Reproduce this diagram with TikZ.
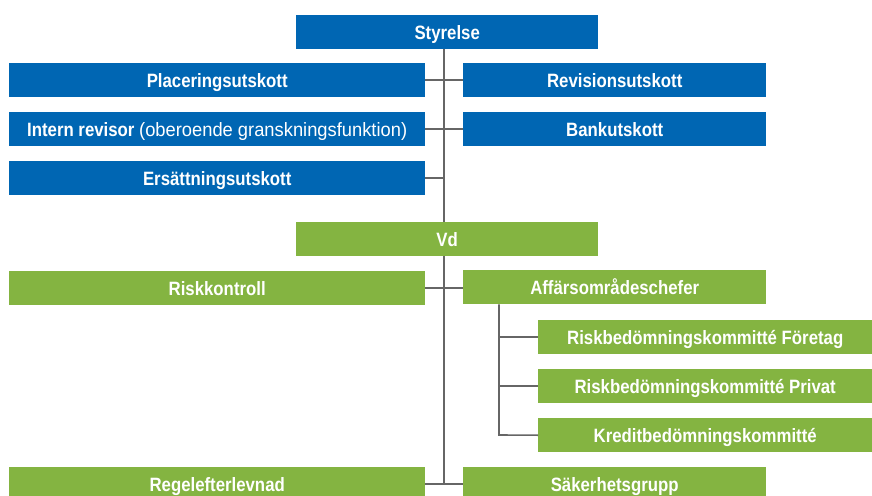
\documentclass[tikz,border=0pt]{standalone}
\usepackage{fontspec}
\setmainfont{Liberation Sans}[FakeStretch=0.87]
\definecolor{bblue}{HTML}{0066B3}
\definecolor{bgreen}{HTML}{84B441}
\definecolor{lgray}{HTML}{666666}
\begin{document}
\begin{tikzpicture}[x=1pt,y=-1pt,
  box/.style={draw=none,anchor=north west,inner sep=0pt,text=white,
    font=\fontsize{19.3}{21}\selectfont\bfseries,minimum height=34pt,
    text height=13.8pt,text depth=0pt},
  bluebox/.style={box,fill=bblue},
  greenbox/.style={box,fill=bgreen},
  conn/.style={draw=lgray,line width=1.6pt}]
\useasboundingbox (0,0) rectangle (872,495);
\clip (0,0) rectangle (872,495);
% blue
\node[bluebox,minimum width=302pt] (sty) at (296,15) {Styrelse};
\node[bluebox,minimum width=416pt] (plac) at (9,63) {Placeringsutskott};
\node[bluebox,minimum width=303pt] (rev) at (463,63) {Revisionsutskott};
\node[bluebox,minimum width=416pt] (int) at (9,112) {Intern revisor {\mdseries\addfontfeature{FakeStretch=0.95}(oberoende granskningsfunktion)}};
\node[bluebox,minimum width=303pt] (bank) at (463,112) {Bankutskott};
\node[bluebox,minimum width=416pt] (ers) at (9,161) {Ersättningsutskott};
% green
\node[greenbox,minimum width=302pt] (vd) at (296,222) {Vd};
\node[greenbox,minimum width=416pt] (risk) at (9,271) {Riskkontroll};
\node[greenbox,minimum width=303pt] (aff) at (463,270) {Affärsområdeschefer};
\node[greenbox,minimum width=334pt] (rbf) at (538,320) {Riskbedömningskommitté Företag};
\node[greenbox,minimum width=334pt] (rbp) at (538,369) {Riskbedömningskommitté Privat};
\node[greenbox,minimum width=334pt] (kred) at (538,418) {Kreditbedömningskommitté};
\node[greenbox,minimum width=416pt] (regel) at (9,467) {Regelefterlevnad};
\node[greenbox,minimum width=303pt] (sak) at (463,467) {Säkerhetsgrupp};
% trunk
\coordinate (t) at (444,0);
\coordinate (s) at (499,0);
\coordinate (tend) at (444,484);
\coordinate (send) at (499,435);
\draw[conn] (sty.south -| t) -- (vd.north -| t);
\draw[conn] (vd.south -| t) -- (tend);
\draw[conn] (plac.east) -- (rev.west);
\draw[conn] (int.east) -- (bank.west);
\draw[conn] (ers.east) -- (ers.east -| t);
\draw[conn] (risk.east) -- (risk.east -| aff.west);
\draw[conn] (regel.east) -- (sak.west);
% sub branch
\draw[conn] (aff.south -| s) -- (send) -- (kred.west);
\draw[conn] (rbf.west -| s) -- (rbf.west);
\draw[conn] (rbp.west -| s) -- (rbp.west);
\end{tikzpicture}
\end{document}
